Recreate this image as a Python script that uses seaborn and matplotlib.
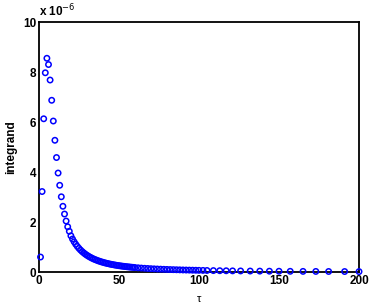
import matplotlib
matplotlib.use("Agg")
import matplotlib.pyplot as plt
import seaborn as sns
import pandas as pd

# tau sample points
tau = [1, 2, 3, 4, 5, 6, 7, 8, 9, 10,
       11, 12, 13, 14, 15, 16, 17, 18, 19, 20,
       21, 22, 23, 24, 25, 26, 27, 28, 29, 30,
       31, 32, 33, 34, 35, 36, 37, 38, 39, 40,
       41, 42, 43, 44, 45, 46, 47, 48, 49, 50,
       51, 52, 53, 54, 55, 56, 57, 58, 59, 60,
       62, 64, 66, 68, 70, 72, 74, 76, 78, 80,
       82, 84, 86, 88, 90, 92, 94, 96, 98, 100,
       102.5, 105, 109, 113, 117, 121, 126, 132, 138, 144,
       150, 157, 165, 173, 181, 191, 200]

# integrand values, in units of 1e-6
integrand = [0.60, 3.22, 6.13, 7.97, 8.55, 8.30, 7.68, 6.87, 6.04, 5.27,
             4.58, 3.96, 3.47, 3.01, 2.63, 2.32, 2.04, 1.81, 1.63, 1.45,
             1.321, 1.210, 1.112, 1.026, 0.949, 0.881, 0.820, 0.766, 0.716, 0.672,
             0.631, 0.594, 0.560, 0.529, 0.501, 0.475, 0.451, 0.429, 0.408, 0.389,
             0.371, 0.354, 0.339, 0.324, 0.311, 0.298, 0.286, 0.275, 0.264, 0.254,
             0.245, 0.236, 0.228, 0.220, 0.212, 0.205, 0.198, 0.192, 0.186, 0.180,
             0.169, 0.159, 0.150, 0.142, 0.134, 0.127, 0.121, 0.115, 0.109, 0.104,
             0.099, 0.095, 0.091, 0.087, 0.083, 0.080, 0.077, 0.074, 0.071, 0.068,
             0.065, 0.062, 0.058, 0.054, 0.051, 0.047, 0.044, 0.040, 0.037, 0.034,
             0.032, 0.029, 0.026, 0.024, 0.022, 0.020, 0.018]

xticks = [0, 50, 100, 150, 200]
yticks = [0, 2, 4, 6, 8, 10]

df = pd.DataFrame({"tau": tau, "integrand": integrand})

sns.set_style("white")
plt.rcParams["font.family"] = ["Liberation Sans", "DejaVu Sans"]
plt.rcParams["text.color"] = "black"
plt.rcParams["axes.labelcolor"] = "black"
plt.rcParams["xtick.color"] = "black"
plt.rcParams["ytick.color"] = "black"

fig = plt.figure(figsize=(3.74, 3.06), dpi=100)
ax = fig.add_axes([0.104, 0.111, 0.856, 0.817])

sns.scatterplot(data=df, x="tau", y="integrand", ax=ax, marker="o", s=15,
                color="blue", facecolor="none", edgecolor="blue",
                linewidth=1.1, clip_on=False, zorder=3)

ax.set_xlim(0, 200)
ax.set_ylim(0, 10)
ax.set_xticks(xticks)
ax.set_yticks(yticks)
ax.set_xticklabels([str(t) for t in xticks], fontweight="bold", fontsize=8.5)
ax.set_yticklabels([str(t) for t in yticks], fontweight="bold", fontsize=8.5)
ax.tick_params(direction="in", length=4, width=1.0, colors="black", pad=2)

for s in ax.spines.values():
    s.set_visible(True)
    s.set_color("black")
    s.set_linewidth(1.3)

ax.set_xlabel("τ", fontsize=8, labelpad=5)
ax.set_ylabel("integrand", fontweight="bold", fontsize=8.5, labelpad=4)
ax.text(0.0, 1.01, "x 10$^{-6}$", transform=ax.transAxes, fontsize=8.5,
        fontweight="bold", ha="left", va="bottom")

fig.savefig("out.png", dpi=100)
